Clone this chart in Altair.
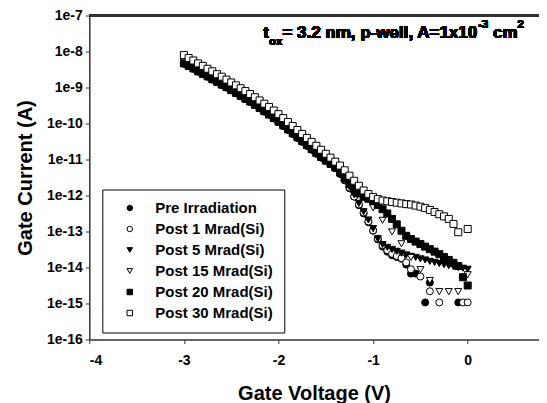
import altair as alt
import pandas as pd

# Gate voltage grid (V) used by most series (0.05 V step)
V_FINE = [-3.00, -2.95, -2.90, -2.85, -2.80, -2.75, -2.70, -2.65, -2.60, -2.55,
          -2.50, -2.45, -2.40, -2.35, -2.30, -2.25, -2.20, -2.15, -2.10, -2.05,
          -2.00, -1.95, -1.90, -1.85, -1.80, -1.75, -1.70, -1.65, -1.60, -1.55,
          -1.50, -1.45, -1.40, -1.35, -1.30, -1.25, -1.20, -1.15, -1.10, -1.05,
          -1.00, -0.95, -0.90, -0.85, -0.80, -0.75, -0.70, -0.65, -0.60, -0.55,
          -0.50, -0.45, -0.40, -0.35, -0.30, -0.25, -0.20, -0.15, -0.10, -0.05,
          0.00]
# Gate voltage grid (V) for the 15 Mrad series (0.1 V step)
V_COARSE = [-3.0, -2.9, -2.8, -2.7, -2.6, -2.5, -2.4, -2.3, -2.2, -2.1,
            -2.0, -1.9, -1.8, -1.7, -1.6, -1.5, -1.4, -1.3, -1.2, -1.1,
            -1.0, -0.9, -0.8, -0.7, -0.6, -0.5, -0.4, -0.3, -0.2, -0.1,
            0.0]

# log10 of gate current (A); None = no point shown
PRE_LOG = [-8.34, -8.41, -8.48, -8.56, -8.63, -8.70, -8.78, -8.85, -8.93, -9.00,
           -9.08, -9.16, -9.24, -9.32, -9.40, -9.49, -9.58, -9.67, -9.76, -9.86,
           -9.96, -10.07, -10.18, -10.29, -10.40, -10.51, -10.62, -10.73, -10.84, -10.95,
           -11.04, -11.13, -11.24, -11.40, -11.58, -11.80, -12.03, -12.27, -12.50, -12.74,
           -12.98, -13.22, -13.42, -13.56, -13.66, -13.71, -13.76, -13.92, -14.17, -14.17,
           None, -14.97, -14.42, None, None, None, None, None, -14.97, None,
           None]
POST1_LOG = [-8.32, -8.40, -8.47, -8.55, -8.62, -8.69, -8.77, -8.84, -8.92, -8.99,
             -9.07, -9.15, -9.23, -9.31, -9.39, -9.48, -9.57, -9.66, -9.75, -9.85,
             -9.95, -10.06, -10.17, -10.28, -10.39, -10.50, -10.61, -10.72, -10.83, -10.94,
             -11.03, -11.12, -11.23, -11.38, -11.56, -11.78, -12.03, -12.25, -12.47, -12.72,
             -12.97, -13.20, -13.38, -13.52, -13.62, -13.68, -13.74, -13.86, -14.05, None,
             -14.25, None, -14.66, None, -14.97, None, None, None, None, -14.97,
             -14.97]
POST5_LOG = [-8.31, -8.38, -8.46, -8.53, -8.60, -8.68, -8.75, -8.83, -8.90, -8.98,
             -9.06, -9.13, -9.21, -9.29, -9.38, -9.46, -9.55, -9.64, -9.73, -9.83,
             -9.93, -10.04, -10.15, -10.26, -10.37, -10.48, -10.59, -10.70, -10.81, -10.92,
             -11.02, -11.10, -11.21, -11.37, -11.55, -11.76, -11.98, -12.22, -12.45, -12.68,
             -12.92, -13.20, -13.36, -13.44, -13.50, -13.55, -13.60, -13.65, -13.69, -13.72,
             -13.76, -13.79, -13.83, -13.86, -13.89, -13.92, -13.95, -13.98, -14.00, -14.02,
             -14.05]
POST15_LOG = [-8.25, -8.40, -8.55, -8.70, -8.85, -9.01, -9.17, -9.33, -9.51, -9.69,
              -9.89, -10.11, -10.33, -10.55, -10.77, -10.99, -11.18, -11.50, -11.83, -12.05,
              -12.34, -12.69, -13.01, -13.34, -13.72, -14.06, -14.36, -14.67, -14.67, -14.67,
              -14.20]
POST20_LOG = [-8.33, -8.40, -8.47, -8.55, -8.62, -8.69, -8.77, -8.84, -8.92, -8.99,
              -9.07, -9.15, -9.23, -9.31, -9.39, -9.48, -9.57, -9.66, -9.75, -9.85,
              -9.95, -10.05, -10.16, -10.27, -10.38, -10.49, -10.60, -10.71, -10.82, -10.93,
              -11.03, -11.12, -11.22, -11.36, -11.52, -11.68, -11.82, -11.94, -12.03, -12.09,
              -12.15, -12.26, -12.38, -12.50, -12.65, -12.80, -12.98, -13.12, -13.21, -13.28,
              -13.35, -13.42, -13.49, -13.56, -13.63, -13.71, -13.79, -13.87, -13.96, -14.27,
              -14.50]
POST30_LOG = [-8.10, -8.18, -8.25, -8.33, -8.40, -8.48, -8.55, -8.63, -8.70, -8.78,
              -8.86, -8.94, -9.02, -9.10, -9.18, -9.27, -9.36, -9.45, -9.54, -9.64,
              -9.74, -9.85, -9.96, -10.07, -10.18, -10.29, -10.40, -10.51, -10.62, -10.73,
              -10.84, -10.95, -11.06, -11.17, -11.30, -11.45, -11.59, -11.73, -11.86, -11.96,
              -12.04, -12.10, -12.14, -12.16, -12.18, -12.20, -12.22, -12.24, -12.25, -12.28,
              -12.31, -12.35, -12.40, -12.46, -12.52, -12.58, -12.65, -12.79, -13.02, None,
              -12.93]

SERIES = ["Pre Irradiation", "Post 1 Mrad(Si)", "Post 5 Mrad(Si)",
          "Post 15 Mrad(Si)", "Post 20 Mrad(Si)", "Post 30 Mrad(Si)"]
SHAPES = ["circle", "circle", "triangle-down", "triangle-down", "square", "square"]
FILLS = ["black", "white", "black", "white", "black", "white"]

X_TICKS = [-4, -3, -2, -1, 0]
Y_TICKS = [1e-16, 1e-15, 1e-14, 1e-13, 1e-12, 1e-11, 1e-10, 1e-9, 1e-8, 1e-7]

rows = []
for name, volts, logs in [(SERIES[0], V_FINE, PRE_LOG), (SERIES[1], V_FINE, POST1_LOG),
                          (SERIES[2], V_FINE, POST5_LOG), (SERIES[3], V_COARSE, POST15_LOG),
                          (SERIES[4], V_FINE, POST20_LOG), (SERIES[5], V_FINE, POST30_LOG)]:
    for v, lg in zip(volts, logs):
        if lg is not None:
            rows.append({"series": name, "V": v, "I": 10 ** lg})
df = pd.DataFrame(rows)

FONT = "Liberation Sans"
TOP = 7.5
W, H = 449.5, 324
X_MAX = -4 + W / 94.6

leg = alt.Legend(orient="none", legendX=13, legendY=174, title=None, direction="vertical",
                 strokeColor="black", fillColor="white", padding=11, rowPadding=5,
                 symbolOffset=9, labelOffset=18, symbolSize=30,
                 symbolStrokeWidth=1,
                 labelFont=FONT, labelFontSize=15, labelFontWeight="bold",
                 labelColor="black", labelLimit=0)

points = alt.Chart(df).mark_point(size=49, strokeWidth=1,
                                  fillOpacity=1, opacity=1).encode(
    x=alt.X("V:Q", scale=alt.Scale(domain=[-4, X_MAX], nice=False, zero=False),
            axis=alt.Axis(values=X_TICKS, title="Gate Voltage (V)",
                          labelExpr="'' + datum.value", labelPadding=10,
                          titleBaseline="alphabetic", titleY=60)),
    y=alt.Y("I:Q", scale=alt.Scale(type="log", domain=[1e-16, 1e-7], nice=False),
            axis=alt.Axis(values=Y_TICKS, format=".0e", title="Gate Current (A)",
                          titleBaseline="alphabetic", titleX=-58, titleAngle=-90)),
    shape=alt.Shape("series:N", scale=alt.Scale(domain=SERIES, range=SHAPES), legend=leg),
    fill=alt.Fill("series:N", scale=alt.Scale(domain=SERIES, range=FILLS), legend=leg),
    stroke=alt.Stroke("series:N", scale=alt.Scale(domain=SERIES, range=["black"] * 6), legend=leg),
)

top_line = alt.Chart(df).mark_rule(stroke="#333", strokeWidth=1.5).encode(
    x=alt.value(0), x2=alt.value(W), y=alt.value(0))

def txt(s, x, y, size):
    return alt.Chart(df).mark_text(text=s, align="left", baseline="alphabetic",
                                   font=FONT, fontSize=size, fontWeight="bold",
                                   color="black").encode(x=alt.value(x), y=alt.value(y))

# annotation laid out left to right (Arial-bold advance widths, em units)
BIG, SMALL = 17, 11.5
BASE, SUB, SUP = 22, 29, 12
x0 = 174
x1 = x0 + 0.333 * BIG                       # after "t"
x2 = x1 + 1.167 * SMALL                     # after "ox"
x3 = x2 + 11.506 * BIG                      # after "= 3.2 nm, p-well, A=1x10"
x4 = x3 + 0.889 * SMALL + 0.278 * BIG       # after "-3 "
x5 = x4 + 1.445 * BIG                       # after "cm"
annot = [txt("t", x0, BASE, BIG), txt("ox", x1, SUB, SMALL),
         txt("= 3.2 nm, p-well, A=1x10", x2, BASE, BIG),
         txt("-3", x3, SUP, SMALL), txt("cm", x4, BASE, BIG), txt("2", x5, SUP, SMALL)]

chart = alt.layer(top_line, points, *annot).properties(
    width=W, height=H,
    padding={"left": 81.3, "top": TOP, "right": 0, "bottom": 64},
    autosize=alt.AutoSizeParams(type="none"),
).configure_view(stroke=None).configure_axis(
    labelFont=FONT, labelFontSize=14, labelFontWeight="bold", labelColor="black",
    titleFont=FONT, titleFontSize=20, titleFontWeight="bold", titleColor="black",
    domainColor="#333", domainWidth=1.5, tickColor="#333", tickWidth=1, tickSize=4,
    grid=False, labelPadding=3,
)

chart.save("out.html", embed_options={"renderer": "svg", "actions": False})
